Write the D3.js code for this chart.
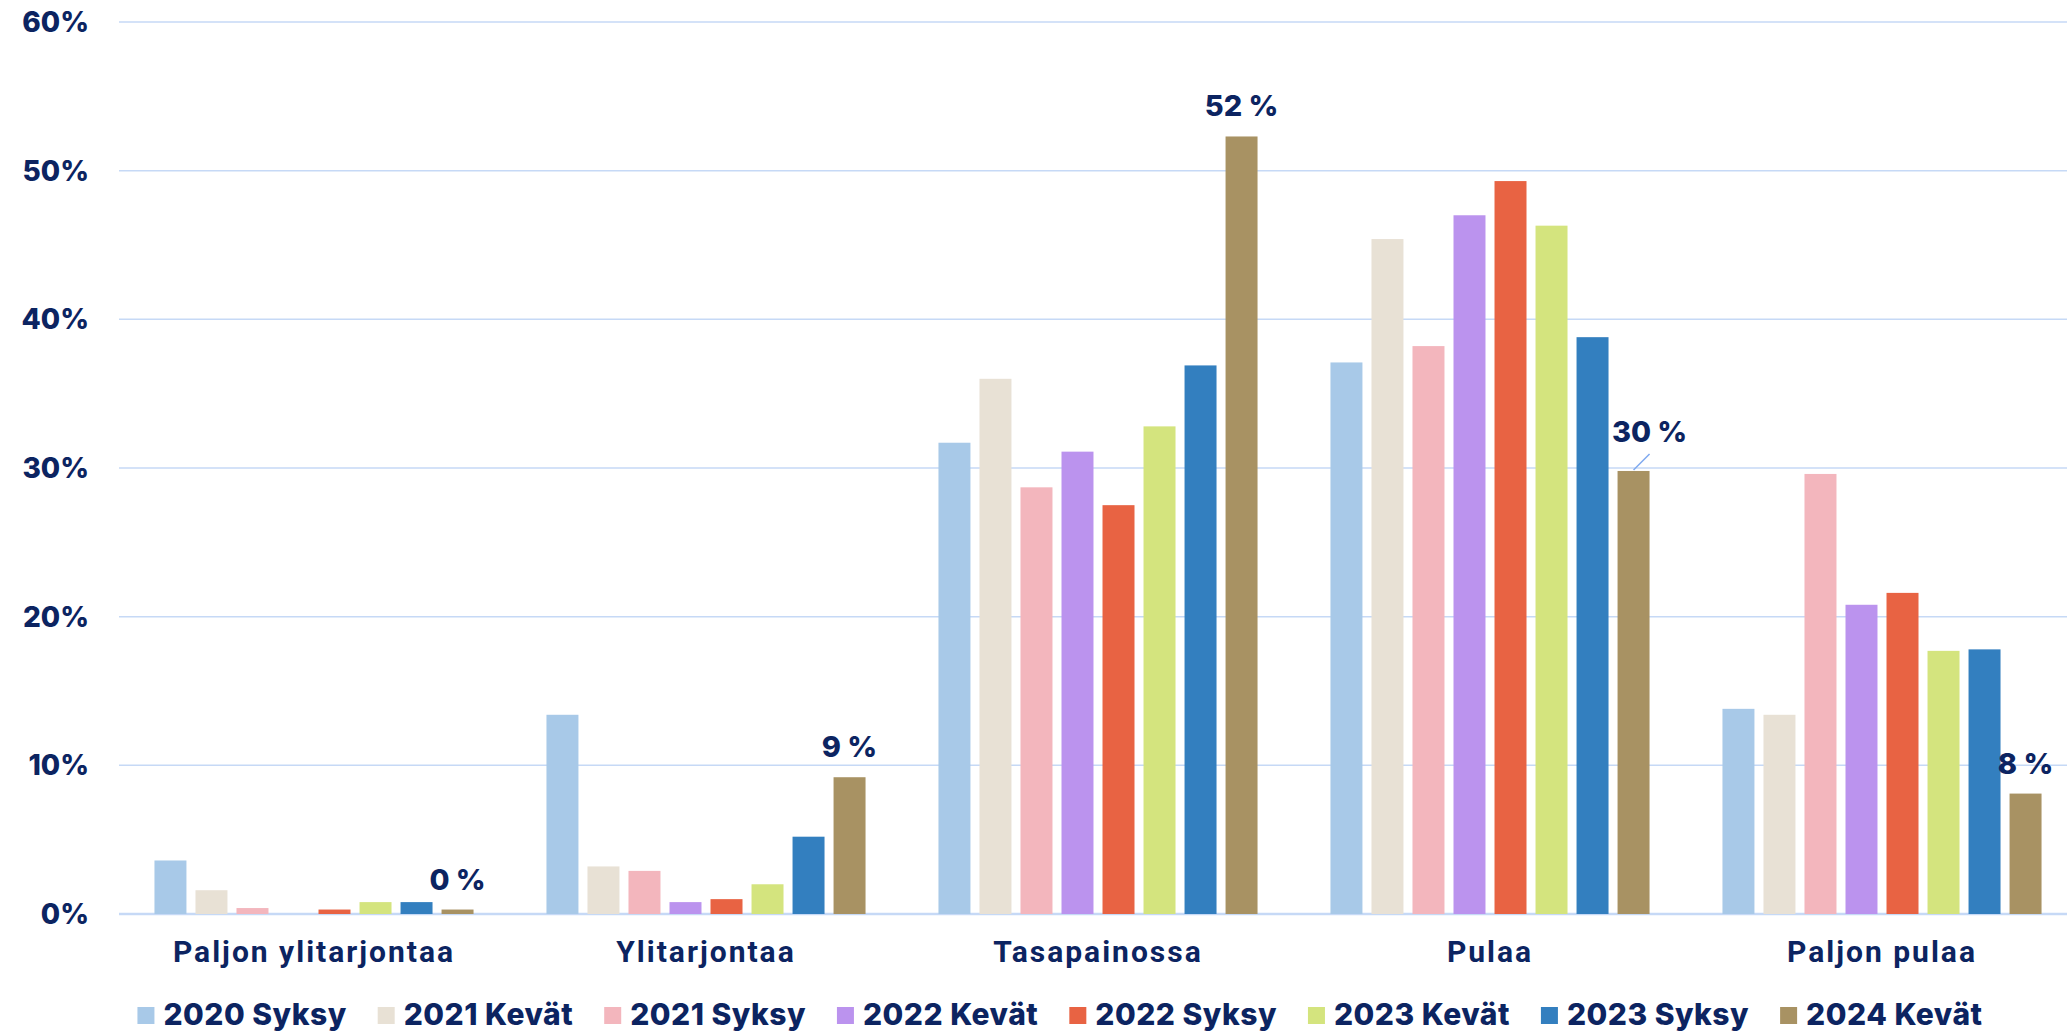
<!DOCTYPE html>
<html>
<head>
<meta charset="utf-8">
<script src="https://cdn.jsdelivr.net/npm/d3@7"></script>
<style>
  body { margin: 0; background: #ffffff; }
  svg { display: block; }
  .ylab { font-family: Inter, "Open Sans", sans-serif; font-weight: 800; font-size: 28px; fill: #0c2461; }
  .cat { font-family: Roboto, sans-serif; font-weight: 700; font-size: 30px; letter-spacing: 2px; fill: #0c2461; }
  .val { font-family: Inter, "Open Sans", sans-serif; font-weight: 800; font-size: 29px; fill: #0c2461; }
  .leg { font-family: Inter, Roboto, sans-serif; font-weight: 800; font-size: 30px; letter-spacing: 0.5px; fill: #0c2461; }
</style>
</head>
<body>
<svg id="chart"></svg>
<script>
// categories and series
var categories = ["Paljon ylitarjontaa", "Ylitarjontaa", "Tasapainossa", "Pulaa", "Paljon pulaa"];
var series = ["2020 Syksy", "2021 Kevät", "2021 Syksy", "2022 Kevät", "2022 Syksy", "2023 Kevät", "2023 Syksy", "2024 Kevät"];
var colors = ["#a8c9e8", "#e8e1d5", "#f3b6bd", "#bb93ee", "#e86343", "#d4e47e", "#337fbf", "#a89263"];

// values in %, one array per series (order of categories)
var v2020S = [3.6, 13.4, 31.7, 37.1, 13.8];
var v2021K = [1.6, 3.2, 36.0, 45.4, 13.4];
var v2021S = [0.4, 2.9, 28.7, 38.2, 29.6];
var v2022K = [0.0, 0.8, 31.1, 47.0, 20.8];
var v2022S = [0.3, 1.0, 27.5, 49.3, 21.6];
var v2023K = [0.8, 2.0, 32.8, 46.3, 17.7];
var v2023S = [0.8, 5.2, 36.9, 38.8, 17.8];
var v2024K = [0.3, 9.2, 52.3, 29.8, 8.1];
var values = [v2020S, v2021K, v2021S, v2022K, v2022S, v2023K, v2023S, v2024K];

// labels shown for the last series
var lastLabels = ["0 %", "9 %", "52 %", "30 %", "8 %"];
var yTicks = [0, 10, 20, 30, 40, 50, 60];

var W = 2067, H = 1031;
var svg = d3.select("#chart").attr("width", W).attr("height", H);

var y = d3.scaleLinear().domain([0, 60]).range([914, 22]);
var x0 = d3.scaleBand().domain(categories).range([118, 2078]).paddingInner(0.163).paddingOuter(0.0815);
var x1 = d3.scaleBand().domain(series).range([0, x0.bandwidth()]).paddingInner(0.22).paddingOuter(0.11);

// gridlines
svg.append("g").selectAll("line")
    .data(yTicks)
    .enter().append("line")
    .attr("x1", 119).attr("x2", W)
    .attr("y1", function(d) { return y(d); })
    .attr("y2", function(d) { return y(d); })
    .style("stroke", "#c6d9f6")
    .style("stroke-width", function(d) { return d == 0 ? 2.5 : 1.5; });

// y labels
svg.append("g").selectAll("text")
    .data(yTicks)
    .enter().append("text")
    .attr("class", "ylab")
    .attr("x", 89)
    .attr("y", function(d) { return y(d) + 10; })
    .attr("text-anchor", "end")
    .text(function(d) { return d + "%"; });

// bars
var groups = svg.append("g").selectAll("g")
    .data(categories)
    .enter().append("g")
    .attr("transform", function(d) { return "translate(" + x0(d) + ",0)"; });

groups.selectAll("rect")
    .data(function(d, ci) {
        return series.map(function(s, si) { return { s: s, si: si, v: values[si][ci] }; });
    })
    .enter().append("rect")
    .attr("x", function(d) { return x1(d.s); })
    .attr("width", x1.bandwidth())
    .attr("y", function(d) { return y(d.v); })
    .attr("height", function(d) { return y(0) - y(d.v); })
    .style("fill", function(d) { return colors[d.si]; })
    .style("display", function(d) { return d.v > 0 ? null : "none"; });

// value labels on last series
var lastS = series[series.length - 1];
categories.forEach(function(c, ci) {
    var cx = x0(c) + x1(lastS) + x1.bandwidth() / 2;
    var top = y(v2024K[ci]);
    var dx = 0, dy = -20;
    // Pulaa label is nudged up/right with a leader line
    if (c == "Pulaa") {
        dx = 16; dy = -29;
        svg.append("line")
            .attr("x1", cx).attr("y1", top - 1)
            .attr("x2", cx + 16).attr("y2", top - 17)
            .style("stroke", "#7fa9ef")
            .style("stroke-width", 1.5);
    }
    svg.append("text")
        .attr("class", "val")
        .attr("x", cx + dx)
        .attr("y", top + dy)
        .attr("text-anchor", "middle")
        .text(lastLabels[ci]);
});

// category labels
svg.append("g").selectAll("text")
    .data(categories)
    .enter().append("text")
    .attr("class", "cat")
    .attr("x", function(d) { return x0(d) + x0.bandwidth() / 2; })
    .attr("y", 962)
    .attr("text-anchor", "middle")
    .text(function(d) { return d; });

// legend
var legend = svg.append("g");
var items = legend.selectAll("g")
    .data(series)
    .enter().append("g");
items.append("rect")
    .attr("width", 17).attr("height", 17)
    .attr("y", 1007)
    .style("fill", function(d, i) { return colors[i]; });
items.append("text")
    .attr("class", "leg")
    .attr("x", 26)
    .attr("y", 1025)
    .text(function(d) { return d; });

var pos = 0;
items.each(function() {
    var g = d3.select(this);
    g.attr("transform", "translate(" + pos + ",0)");
    pos += 26 + g.select("text").node().getComputedTextLength() + 31;
});
var total = pos - 31;
legend.attr("transform", "translate(" + (1060 - total / 2) + ",0)");
</script>
</body>
</html>
